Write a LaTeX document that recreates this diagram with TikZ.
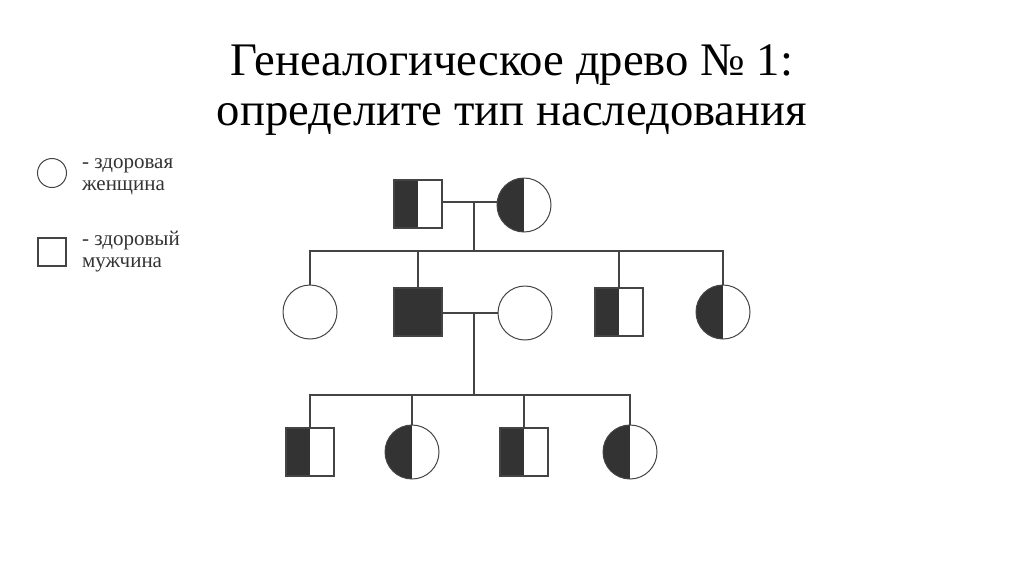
\documentclass[tikz,border=0pt]{standalone}
\usepackage{fontspec}
\setmainfont{Liberation Serif}
\usetikzlibrary{positioning}
\definecolor{ink}{HTML}{333333}
\definecolor{edge}{HTML}{444444}
\tikzset{male/.style={rectangle,draw=edge,line width=1.2pt,fill=white,inner sep=0pt,
minimum size=48pt},
female/.style={circle,draw=edge,line width=1pt,fill=white,inner sep=0pt,
minimum size=54pt},
sick/.style={fill=ink},
carrier/.style={path picture={\fill[ink] (path picture bounding box.south west)
rectangle (path picture bounding box.north);}},
legmale/.style={male,minimum size=28pt},
legfemale/.style={female,minimum size=29pt},
legtext/.style={anchor=west,align=left,inner sep=0pt,text=ink,
font=\fontsize{21}{22}\selectfont},
-/.style={draw=edge,line width=1.2pt}}

\begin{document}
\begin{tikzpicture}[x=1pt,y=-1pt]
  \useasboundingbox (0,0) rectangle (1024,576);
  \node (title) [align=center,font=\fontsize{46.7}{50}\selectfont] at (512,90)
    {Генеалогическое древо № 1:\\определите тип наследования};

  % legend
  \node (lf) [legfemale] at (52,173) {};
  \node (lftext) [legtext] at (82,177) {- здоровая\\женщина};
  \node (lm) [legmale] at (52,252) {};
  \node (lmtext) [legtext] at (82,252) {- здоровый\\мужчина};

  % generation I
  \node (i1) [male,carrier] at (418,204) {};
  \node (i2) [female,carrier] at (524,205) {};

  % generation II
  \node (ii1) [female] at (310,312) {};
  \node (ii2) [male,sick] at (418,312) {};
  \node (ii3) [female] at (525,313) {};
  \node (ii4) [male,carrier] at (619,312) {};
  \node (ii5) [female,carrier] at (723,312) {};

  % generation III
  \node (iii1) [male,carrier] at (310,452) {};
  \node (iii2) [female,carrier] at (412,452) {};
  \node (iii3) [male,carrier] at (524,452) {};
  \node (iii4) [female,carrier] at (630,452) {};

  \coordinate (u1) at (474,202);
  \coordinate (s1) at (474,251);
  \coordinate (u2) at (474,313);
  \coordinate (s2) at (474,395);

  \draw [-] (i1.east |- u1) -- (i2.west |- u1);
  \draw [-] (u1) -- (s1);
  \draw [-] (ii1.north) |- (ii5.north |- s1) -- (ii5.north);
  \draw [-] (ii2.north) -- (ii2.north |- s1);
  \draw [-] (ii4.north) -- (ii4.north |- s1);

  \draw [-] (ii2.east |- u2) -- (ii3.west |- u2);
  \draw [-] (u2) -- (s2);
  \draw [-] (iii1.north) |- (iii4.north |- s2) -- (iii4.north);
  \draw [-] (iii2.north) -- (iii2.north |- s2);
  \draw [-] (iii3.north) -- (iii3.north |- s2);
\end{tikzpicture}
\end{document}
